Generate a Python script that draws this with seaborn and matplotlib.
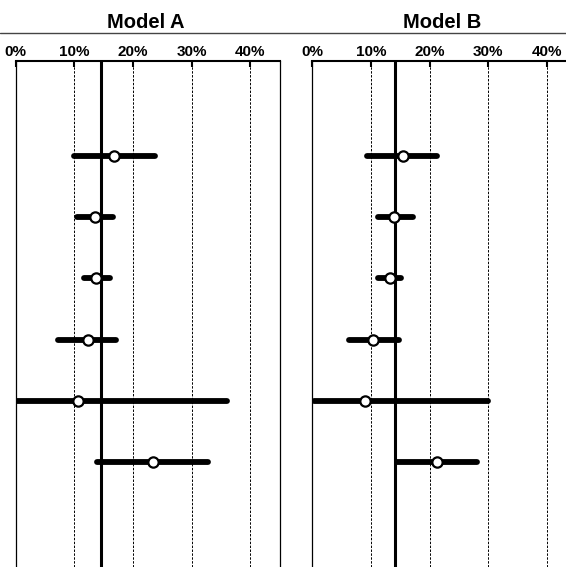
import numpy as np
import pandas as pd
import matplotlib
matplotlib.use("Agg")
import matplotlib.pyplot as plt
from matplotlib.lines import Line2D
import seaborn as sns

# estimates (%), one row per item, top to bottom
models = ["Model A", "Model B"]
rows = [0, 1, 2, 3, 4, 5]
est_a = [16.8, 13.5, 13.8, 12.3, 10.7, 23.4]
low_a = [9.9, 10.5, 11.6, 7.3, 0.3, 13.9]
high_a = [23.8, 16.6, 16.1, 17.2, 36.0, 32.8]
est_b = [15.4, 14.0, 13.2, 10.3, 9.0, 21.2]
low_b = [9.3, 11.3, 11.3, 6.3, 0.4, 14.5]
high_b = [21.2, 17.2, 15.1, 14.8, 29.9, 28.1]
ref_line = [14.6, 14.2]
xticks = [0, 10, 20, 30, 40]
xticklabels = ["0%", "10%", "20%", "30%", "40%"]

frames = []
for m, e, lo, hi in zip(models, [est_a, est_b], [low_a, low_b], [high_a, high_b]):
    frames.append(pd.DataFrame({"model": m, "row": rows, "est": e, "low": lo, "high": hi}))
df = pd.concat(frames, ignore_index=True)

sns.set_theme(style="white")
plt.rcParams["font.family"] = ["Liberation Sans", "DejaVu Sans"]
plt.rcParams["text.color"] = "black"

W, H = 566, 567
fig = plt.figure(figsize=(W / 100, H / 100), dpi=100)

# axes placement in pixels: (left, width)
boxes = [(15.5, 264.0), (312.0, 264.6)]
top_px = 61
for i, (m, (left, width)) in enumerate(zip(models, boxes)):
    ax = fig.add_axes([left / W, 0, width / W, 1 - top_px / H])
    d = df[df["model"] == m]

    for x in xticks[1:]:
        ax.axvline(x, color="black", lw=0.7, ls=(0, (2.5, 1.5)), zorder=1)
    ax.axvline(ref_line[i], color="black", lw=2.2, zorder=2)

    lc = ax.hlines(d["row"], d["low"], d["high"], color="black", lw=4.2, zorder=3)
    lc.set_capstyle("round")
    sns.scatterplot(data=d, x="est", y="row", ax=ax, s=55, marker="o",
                    facecolor="white", edgecolor="black", linewidth=1.6, zorder=4)

    ax.set_xlim(0, 45)
    ax.set_ylim(6.71, -1.55)
    ax.set_xticks(xticks)
    ax.set_xticklabels(xticklabels, fontsize=11, fontweight="bold", color="black")
    ax.xaxis.tick_top()
    ax.tick_params(axis="x", direction="in", length=4, width=1.5, pad=1.5, colors="black")
    ax.set_yticks([])
    ax.set_xlabel("")
    ax.set_ylabel("")
    for side in ["left", "right"]:
        ax.spines[side].set_color("black")
        ax.spines[side].set_linewidth(0.9)
    ax.spines["top"].set_color("black")
    ax.spines["top"].set_linewidth(1.5)
    ax.spines["bottom"].set_visible(False)

    fig.text((left + 130) / W, 1 - 22 / H, m, ha="center", va="center",
             fontsize=14.5, fontweight="bold", color="black")

fig.add_artist(Line2D([0, 1], [1 - 33 / H] * 2, transform=fig.transFigure,
                      color="#444444", lw=1.0))

fig.savefig("out.png", dpi=100)
